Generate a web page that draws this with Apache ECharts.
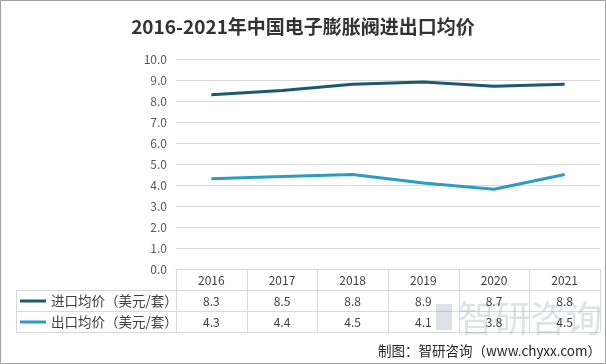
<!DOCTYPE html>
<html>
<head>
<meta charset="utf-8">
<script src="https://cdn.jsdelivr.net/npm/echarts@6/dist/echarts.min.js"></script>
<style>
html,body{margin:0;padding:0;background:#fff;}
#c{width:606px;height:364px;}
</style>
</head>
<body>
<div id="c"></div>
<script>
var titleText = '2016-2021年中国电子膨胀阀进出口均价';
var years = ['2016', '2017', '2018', '2019', '2020', '2021'];
var seriesNames = ['进口均价（美元/套）', '出口均价（美元/套）'];
var importPrice = [8.3, 8.5, 8.8, 8.9, 8.7, 8.8];
var exportPrice = [4.3, 4.4, 4.5, 4.1, 3.8, 4.5];
var sourceText = '制图：智研咨询（www.chyxx.com）';
var watermarkText = '智研咨询';

var colors = ['#1b5a6d', '#2a9dc2'];
var font = '"Noto Sans CJK SC", "Noto Sans", sans-serif';

var chart = echarts.init(document.getElementById('c'), null, {renderer: 'canvas'});

var gL = 176, gR = 600, gT = 59, gB = 269, rowH = 21;
var colW = (gR - gL) / years.length;

var graphics = [];
graphics.push({type: 'rect', shape: {x: 0.5, y: 0.5, width: 605, height: 363}, style: {fill: 'none', stroke: '#a0a0a0', lineWidth: 1}, silent: true});
for (var r = 1; r <= 3; r++) {
  graphics.push({type: 'line', shape: {x1: 16, y1: gB + r * rowH + 0.5, x2: gR, y2: gB + r * rowH + 0.5}, style: {stroke: '#d9d9d9', lineWidth: 1}, silent: true});
}
for (var i = 0; i <= years.length; i++) {
  var x = Math.round(gL + i * colW) + 0.5;
  graphics.push({type: 'line', shape: {x1: x, y1: gB, x2: x, y2: gB + 3 * rowH}, style: {stroke: '#d9d9d9', lineWidth: 1}, silent: true});
}
graphics.push({type: 'line', shape: {x1: 16.5, y1: gB + rowH, x2: 16.5, y2: gB + 3 * rowH}, style: {stroke: '#d9d9d9', lineWidth: 1}, silent: true});
for (var s = 0; s < seriesNames.length; s++) {
  var cy = gB + rowH * (s + 1) + rowH / 2 + 0.5;
  graphics.push({type: 'line', shape: {x1: 20, y1: cy, x2: 46, y2: cy}, style: {stroke: colors[s], lineWidth: 3}, silent: true});
  graphics.push({type: 'text', x: 51, y: cy, style: {text: seriesNames[s], font: '13.5px ' + font, fill: '#404040', textVerticalAlign: 'middle', verticalAlign: 'middle'}, silent: true});
}
graphics.push({type: 'text', x: 458, y: 318, z: 0, style: {text: watermarkText, font: '36px ' + font, fill: 'rgba(150,160,170,0.3)', verticalAlign: 'middle', textVerticalAlign: 'middle'}, silent: true});
graphics.push({type: 'rect', z: 0, shape: {x: 436, y: 304, width: 16, height: 26}, style: {fill: 'rgba(120,140,165,0.25)'}, silent: true});
graphics.push({type: 'text', right: 5, top: 344, style: {text: sourceText, font: '13.5px ' + font, fill: '#262626'}, silent: true});

var option = {
  animation: false,
  backgroundColor: '#ffffff',
  title: {
    text: titleText,
    left: 'center',
    top: 12,
    textStyle: {fontFamily: font, fontSize: 19, fontWeight: 'bold', color: '#333333'}
  },
  grid: {left: gL, right: 606 - gR, top: gT, bottom: 364 - gB, containLabel: false},
  xAxis: [
    {
      type: 'category', data: years, position: 'bottom', boundaryGap: true,
      axisLine: {show: true, lineStyle: {color: '#d9d9d9'}},
      axisTick: {show: false},
      axisLabel: {color: '#404040', fontSize: 12, fontFamily: font, margin: 5}
    },
    {
      type: 'category', data: importPrice.map(function (v) { return v.toFixed(1); }), position: 'bottom', offset: rowH, boundaryGap: true,
      axisLine: {show: false}, axisTick: {show: false},
      axisLabel: {color: '#404040', fontSize: 12, fontFamily: font, margin: 5}
    },
    {
      type: 'category', data: exportPrice.map(function (v) { return v.toFixed(1); }), position: 'bottom', offset: rowH * 2, boundaryGap: true,
      axisLine: {show: false}, axisTick: {show: false},
      axisLabel: {color: '#404040', fontSize: 12, fontFamily: font, margin: 5}
    }
  ],
  yAxis: {
    type: 'value', min: 0, max: 10, interval: 1,
    axisLine: {show: false}, axisTick: {show: false},
    axisLabel: {color: '#595959', fontSize: 12, fontFamily: font, margin: 9, formatter: function (v) { return v.toFixed(1); }},
    splitLine: {lineStyle: {color: '#d9d9d9', width: 1}}
  },
  series: [
    {
      name: seriesNames[0], type: 'line', data: importPrice, xAxisIndex: 0,
      symbol: 'none', smooth: false,
      lineStyle: {color: colors[0], width: 3}, itemStyle: {color: colors[0]}
    },
    {
      name: seriesNames[1], type: 'line', data: exportPrice, xAxisIndex: 0,
      symbol: 'none', smooth: false,
      lineStyle: {color: colors[1], width: 3}, itemStyle: {color: colors[1]}
    }
  ],
  graphic: graphics
};
chart.setOption(option);
</script>
</body>
</html>
